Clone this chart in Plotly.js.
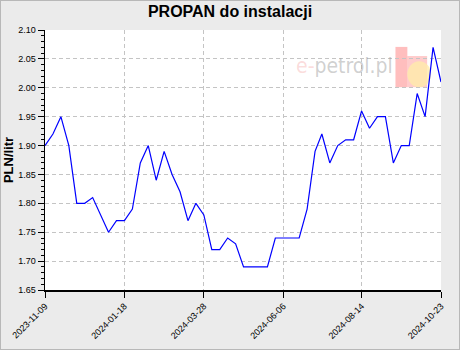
<!DOCTYPE html>
<html>
<head>
<meta charset="utf-8">
<script src="https://cdn.plot.ly/plotly-3.0.1.min.js"></script>
<style>
html,body{margin:0;padding:0;background:#ebebeb;}
#chart{width:458px;height:348px;border:1px solid #b8b8b8;}
</style>
</head>
<body>
<div id="chart"></div>
<script>
const dates = [
 "2023-11-09","2023-11-16","2023-11-23","2023-11-30","2023-12-07","2023-12-14","2023-12-21","2023-12-28",
 "2024-01-04","2024-01-11","2024-01-18","2024-01-25","2024-02-01","2024-02-08","2024-02-15","2024-02-22",
 "2024-02-29","2024-03-07","2024-03-14","2024-03-21","2024-03-28","2024-04-04","2024-04-11","2024-04-18",
 "2024-04-25","2024-05-02","2024-05-09","2024-05-16","2024-05-23","2024-05-30","2024-06-06","2024-06-13",
 "2024-06-20","2024-06-27","2024-07-04","2024-07-10","2024-07-17","2024-07-24","2024-07-31","2024-08-07",
 "2024-08-14","2024-08-21","2024-08-28","2024-09-04","2024-09-11","2024-09-18","2024-09-25","2024-10-02",
 "2024-10-09","2024-10-16","2024-10-23"
];
const prices = [
 1.90,1.92,1.95,1.90,1.80,1.80,1.81,1.78,
 1.75,1.77,1.77,1.79,1.87,1.90,1.84,1.89,
 1.85,1.82,1.77,1.80,1.78,1.72,1.72,1.74,
 1.73,1.69,1.69,1.69,1.69,1.74,1.74,1.74,
 1.74,1.79,1.89,1.92,1.87,1.90,1.91,1.91,
 1.96,1.93,1.95,1.95,1.87,1.90,1.90,1.99,
 1.95,2.07,2.01
];
const tickDates = ["2023-11-09","2024-01-18","2024-03-28","2024-06-06","2024-08-14","2024-10-23"];
const chartTitle = "PROPAN do instalacji";
const yTitle = "PLN/litr";

const trace = {
  x: dates, y: prices, type: "scatter", mode: "lines",
  line: {color: "#0000ff", width: 1.2}, hoverinfo: "x+y"
};

const layout = {
  width: 458, height: 348,
  paper_bgcolor: "#ebebeb", plot_bgcolor: "#ffffff",
  margin: {l: 44, r: 18, t: 29, b: 59},
  showlegend: false,
  font: {family: "Liberation Sans, Arial, sans-serif", color: "#000", size: 9},
  title: {text: "<b>" + chartTitle + "</b>", x: 0.5, xanchor: "center", y: 0.985, yanchor: "top",
          font: {size: 16, family: "Liberation Sans, Arial, sans-serif", color: "#000"}},
  xaxis: {
    type: "date", range: [dates[0], dates[dates.length-1]],
    tickmode: "array", tickvals: tickDates, ticktext: tickDates,
    tickangle: -45, ticks: "outside", ticklen: 6, tickcolor: "#000", tickwidth: 1,
    showline: true, linecolor: "#000", linewidth: 1.5,
    showgrid: true, gridcolor: "#c4c4c4", griddash: "4px,3px", gridwidth: 1,
    zeroline: false, tickfont: {size: 9}, fixedrange: true
  },
  yaxis: {
    range: [1.65, 2.10], tick0: 1.65, dtick: 0.05, tickformat: ".2f",
    ticks: "outside", ticklen: 6, tickcolor: "#000", tickwidth: 1,
    minor: {dtick: 0.01, ticks: "outside", ticklen: 3, tickcolor: "#000", showgrid: false},
    showline: true, linecolor: "#000", linewidth: 1.5,
    showgrid: true, gridcolor: "#c4c4c4", griddash: "4px,3px", gridwidth: 1,
    zeroline: false, tickfont: {size: 9}, fixedrange: true,
    title: {text: "<b>" + yTitle + "</b>", font: {size: 13}, standoff: 5}
  },
  shapes: [
    {type: "rect", xref: "paper", yref: "paper", x0: 0.885, x1: 0.915, y0: 0.78, y1: 0.935,
     fillcolor: "rgba(255,110,110,0.45)", line: {width: 0}, layer: "below"},
    {type: "rect", xref: "paper", yref: "paper", x0: 0.915, x1: 0.965, y0: 0.78, y1: 0.90,
     fillcolor: "rgba(255,110,110,0.35)", line: {width: 0}, layer: "below"},
    {type: "circle", xref: "paper", yref: "paper", x0: 0.915, x1: 0.975, y0: 0.78, y1: 0.88,
     fillcolor: "rgba(255,235,170,0.8)", line: {width: 0}, layer: "below"}
  ],
  annotations: [
    {text: '<span style="color:rgba(240,120,120,0.6)">e-</span>petrol.pl',
     xref: "paper", yref: "paper", x: 0.885, y: 0.86, xanchor: "right", yanchor: "middle",
     showarrow: false, font: {size: 21, family: "DejaVu Sans Condensed, Liberation Sans Narrow, sans-serif", color: "rgba(150,150,150,0.45)"}}
  ]
};

Plotly.newPlot("chart", [trace], layout, {displayModeBar: false, staticPlot: true});
</script>
</body>
</html>
